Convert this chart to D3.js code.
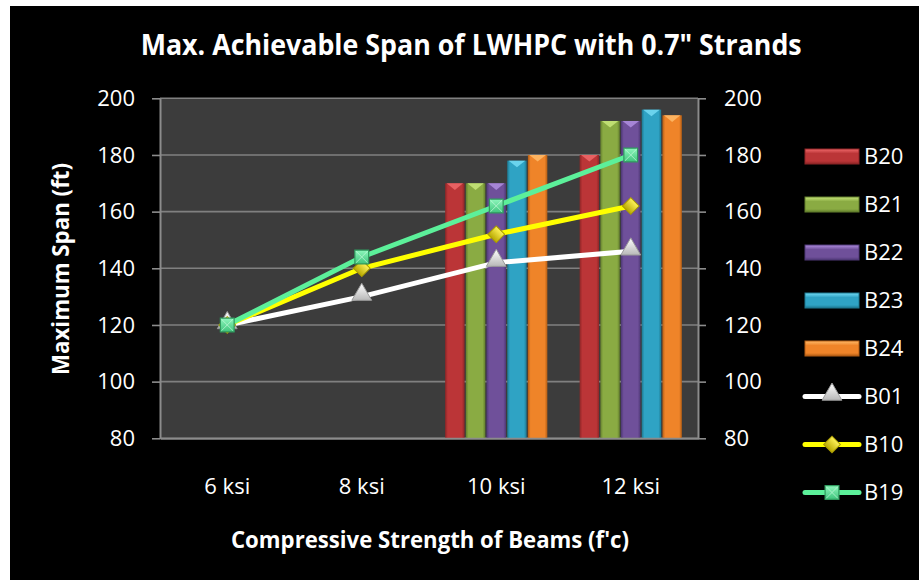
<!DOCTYPE html>
<html>
<head>
<meta charset="utf-8">
<script src="https://cdn.jsdelivr.net/npm/d3@7"></script>
<style>
  body { margin: 0; background: #fff; }
  svg { display: block; }
  text { font-family: "Open Sans", sans-serif; fill: #fff; }
</style>
</head>
<body>
<svg id="chart" width="919" height="580"></svg>
<script>
// ---- data ----
const categories = ["6 ksi", "8 ksi", "10 ksi", "12 ksi"];
const barSeries = ["B20", "B21", "B22", "B23", "B24"];
const B20 = [null, null, 170, 180];
const B21 = [null, null, 170, 192];
const B22 = [null, null, 170, 192];
const B23 = [null, null, 178, 196];
const B24 = [null, null, 180, 194];
const lineSeries = ["B01", "B10", "B19"];
const B01 = [120, 130, 142, 146];
const B10 = [120, 140, 152, 162];
const B19 = [120, 144, 162, 180];
const yTicks = [80, 100, 120, 140, 160, 180, 200];

const barValues = { B20, B21, B22, B23, B24 };
const lineValues = { B01, B10, B19 };

// ---- styles ----
const barColors = {
  B20: { dark: "#8e2526", base: "#bb3537", light: "#f0696a" },
  B21: { dark: "#637f2c", base: "#8aab43", light: "#c8e67a" },
  B22: { dark: "#4f3877", base: "#6f509a", light: "#b08ee0" },
  B23: { dark: "#1d7890", base: "#2fa3c4", light: "#74dcf5" },
  B24: { dark: "#b35d14", base: "#ef8429", light: "#ffbb6a" }
};
const lineStyles = {
  B01: { stroke: "#ffffff", marker: "triangle" },
  B10: { stroke: "#ffff00", marker: "diamond" },
  B19: { stroke: "#5cf09a", marker: "square" }
};

const svg = d3.select("#chart");
const W = 919, H = 580;

// chart frame
svg.append("rect").attr("x", 10).attr("y", 6).attr("width", W - 10).attr("height", H - 6).attr("fill", "#000");

const defs = svg.append("defs");
Object.entries(barColors).forEach(([k, c]) => {
  const g = defs.append("linearGradient").attr("id", "bar-" + k).attr("x1", 0).attr("x2", 1).attr("y1", 0).attr("y2", 0);
  g.append("stop").attr("offset", 0).attr("stop-color", c.dark);
  g.append("stop").attr("offset", 0.14).attr("stop-color", c.base);
  g.append("stop").attr("offset", 0.86).attr("stop-color", c.base);
  g.append("stop").attr("offset", 1).attr("stop-color", c.dark);
  const gv = defs.append("linearGradient").attr("id", "leg-" + k).attr("x1", 0).attr("x2", 0).attr("y1", 0).attr("y2", 1);
  gv.append("stop").attr("offset", 0).attr("stop-color", c.light);
  gv.append("stop").attr("offset", 0.3).attr("stop-color", c.base);
  gv.append("stop").attr("offset", 0.8).attr("stop-color", c.base);
  gv.append("stop").attr("offset", 1).attr("stop-color", c.dark);
});
const mk = (id, c1, c2) => {
  const g = defs.append("linearGradient").attr("id", id).attr("x1", 0).attr("x2", 0).attr("y1", 0).attr("y2", 1);
  g.append("stop").attr("offset", 0).attr("stop-color", c1);
  g.append("stop").attr("offset", 1).attr("stop-color", c2);
};
mk("mk-triangle", "#ffffff", "#b8b8b8");
mk("mk-diamond", "#fff35a", "#b8a800");
mk("mk-square", "#8ff7bd", "#3fc47c");

// ---- scales ----
const plot = { left: 160, right: 698, top: 98.3, bottom: 438.3 };
const x = d3.scaleBand().domain(categories).range([plot.left, plot.right]);
const y = d3.scaleLinear().domain([80, 200]).range([plot.bottom, plot.top]);
const bw = x.bandwidth(), gw = bw * 0.76;
const xs = d3.scaleBand().domain(barSeries).range([(bw - gw) / 2, (bw + gw) / 2]).paddingInner(0.06);

// plot background
svg.append("rect").attr("x", plot.left).attr("y", plot.top)
  .attr("width", plot.right - plot.left).attr("height", plot.bottom - plot.top).attr("fill", "#3c3c3c");

// gridlines
svg.append("g").selectAll("line").data(yTicks).join("line")
  .attr("x1", plot.left).attr("x2", plot.right)
  .attr("y1", d => y(d)).attr("y2", d => y(d))
  .attr("stroke", "#808080").attr("stroke-width", 1.6);

// ---- bars ----
const bars = svg.append("g");
barSeries.forEach(s => {
  const c = barColors[s];
  categories.forEach((cat, i) => {
    const v = barValues[s][i];
    if (v == null) return;
    const bx = x(cat) + xs(s), bwid = xs.bandwidth(), top = y(v);
    bars.append("rect").attr("x", bx).attr("y", top).attr("width", bwid)
      .attr("height", y(80) - top).attr("fill", `url(#bar-${s})`);
    // bevel highlight on top face
    bars.append("path")
      .attr("d", `M${bx + 1.5},${top} L${bx + bwid - 1.5},${top} L${bx + bwid / 2},${top + bwid * 0.34} Z`)
      .attr("fill", c.light).attr("opacity", 0.85);
  });
});

// ---- axes ----
const axisColor = "#8c8c8c";
const styleAxis = g => {
  g.select(".domain").attr("stroke", axisColor).attr("stroke-width", 2);
  g.selectAll(".tick line").attr("stroke", axisColor).attr("stroke-width", 1.6);
  g.selectAll("text").attr("fill", "#fff").style("font-size", "22px").style("font-family", '"Open Sans", sans-serif');
};
svg.append("g").attr("transform", `translate(${plot.left},0)`)
  .call(d3.axisLeft(y).tickValues(yTicks).tickSize(8).tickSizeOuter(0).tickPadding(17))
  .call(styleAxis);
svg.append("g").attr("transform", `translate(${plot.right},0)`)
  .call(d3.axisRight(y).tickValues(yTicks).tickSize(8).tickSizeOuter(0).tickPadding(18))
  .call(styleAxis);
svg.append("g").attr("transform", `translate(0,${plot.bottom})`)
  .call(d3.axisBottom(x).tickSize(0).tickPadding(40))
  .call(styleAxis);

// ---- lines ----
const symbolFor = {
  triangle: d3.symbol().type(d3.symbolTriangle).size(170),
  diamond: d3.symbol().type(d3.symbolSquare).size(140),
  square: d3.symbol().type(d3.symbolSquare).size(190)
};
const drawMarker = (g, kind, cx, cy) => {
  const m = g.append("path").attr("d", symbolFor[kind]())
    .attr("fill", `url(#mk-${kind})`);
  if (kind === "triangle") {
    m.attr("transform", `translate(${cx},${cy - 2})`).attr("stroke", "#9a9a9a").attr("stroke-width", 1);
  } else if (kind === "diamond") {
    m.attr("transform", `translate(${cx},${cy}) rotate(45)`).attr("stroke", "#a89a00").attr("stroke-width", 1);
  } else {
    m.attr("transform", `translate(${cx},${cy})`).attr("stroke", "#2f9a5e").attr("stroke-width", 1.2);
    const h = Math.sqrt(190) / 2 - 1;
    g.append("path")
      .attr("d", `M${cx - h},${cy - h}L${cx + h},${cy + h}M${cx + h},${cy - h}L${cx - h},${cy + h}`)
      .attr("stroke", "#c8fbdd").attr("stroke-width", 1).attr("opacity", 0.7);
  }
};
const lineGen = d3.line().x((d, i) => x(categories[i]) + bw / 2).y(d => y(d));
const linesG = svg.append("g");
lineSeries.forEach(s => {
  const st = lineStyles[s];
  linesG.append("path").datum(lineValues[s]).attr("d", lineGen)
    .attr("fill", "none").attr("stroke", st.stroke).attr("stroke-width", 5);
});
lineSeries.forEach(s => {
  const st = lineStyles[s];
  lineValues[s].forEach((v, i) => drawMarker(linesG, st.marker, x(categories[i]) + bw / 2, y(v)));
});

// ---- legend ----
const legendItems = barSeries.concat(lineSeries);
const leg = svg.append("g");
legendItems.forEach((s, i) => {
  const cy = 156.5 + i * 48;
  if (barColors[s]) {
    leg.append("rect").attr("x", 805).attr("y", cy - 7.5).attr("width", 54).attr("height", 15)
      .attr("fill", `url(#leg-${s})`).attr("stroke", barColors[s].dark).attr("stroke-width", 1);
  } else {
    leg.append("line").attr("x1", 805).attr("x2", 859).attr("y1", cy).attr("y2", cy)
      .attr("stroke", lineStyles[s].stroke).attr("stroke-width", 5).attr("stroke-linecap", "round");
    drawMarker(leg, lineStyles[s].marker, 832, cy);
  }
  leg.append("text").attr("x", 864).attr("y", cy).attr("dy", "0.36em")
    .style("font-size", "22px").text(s);
});

// ---- titles ----
svg.append("text").attr("x", 471.2).attr("y", 55).attr("text-anchor", "middle")
  .attr("textLength", 661).attr("lengthAdjust", "spacingAndGlyphs")
  .style("font-size", "29px").style("font-weight", "bold")
  .text("Max. Achievable Span of LWHPC with 0.7\" Strands");
svg.append("text").attr("x", 430).attr("y", 548).attr("text-anchor", "middle")
  .attr("textLength", 398).attr("lengthAdjust", "spacingAndGlyphs")
  .style("font-size", "23px").style("font-weight", "bold")
  .text("Compressive Strength of Beams (f'c)");
svg.append("text").attr("transform", "translate(69,269) rotate(-90)").attr("text-anchor", "middle")
  .attr("textLength", 212).attr("lengthAdjust", "spacingAndGlyphs")
  .style("font-size", "23px").style("font-weight", "bold")
  .text("Maximum Span (ft)");
</script>
</body>
</html>
